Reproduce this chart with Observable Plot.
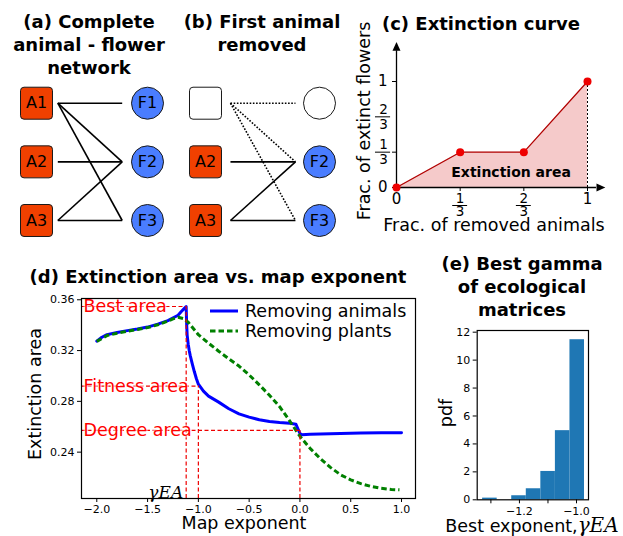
<!DOCTYPE html>
<html><head><meta charset="utf-8">
<script src="https://cdn.jsdelivr.net/npm/d3@7"></script>
<script src="https://cdn.jsdelivr.net/npm/@observablehq/plot@0.6"></script>
<style>
body{margin:0;background:#fff;font-family:"DejaVu Sans",sans-serif;}
#root{position:relative;width:623px;height:536px;overflow:hidden;background:#fff;}
.abs{position:absolute;}
.title{position:absolute;font-weight:bold;font-size:18px;line-height:23px;text-align:center;white-space:nowrap;transform:translateX(-50%);color:#000;}
.lab{position:absolute;font-size:17.5px;white-space:nowrap;line-height:1;transform:translate(-50%,-50%);color:#000;}
.rot{transform:translate(-50%,-50%) rotate(-90deg);}
.math{font-family:"DejaVu Serif",serif;font-style:italic;line-height:1;}
</style></head><body><div id="root"></div>
<script>
// ---------- data ----------
const animals = ["A1", "A2", "A3"];
const flowers = ["F1", "F2", "F3"];
const edges = [["A1","F1"],["A1","F2"],["A1","F3"],["A2","F2"],["A3","F2"],["A3","F3"]];
const removedAnimal = "A1";
const removedFlower = "F1";

const removedFrac = [0, 1/3, 2/3, 1];
const extinctFrac = [0, 1/3, 1/3, 1];
const fracTicks = [{v: 1/3, num: "1", den: "3"}, {v: 2/3, num: "2", den: "3"}];
const wholeTicks = [0, 1];

const animalExponent = [-2.0,-1.95,-1.9,-1.8,-1.7,-1.6,-1.5,-1.4,-1.3,-1.2,-1.17,-1.14,-1.12,-1.115,-1.11,-1.10,-1.09,-1.08,-1.06,-1.04,-1.02,-1.0,-0.95,-0.9,-0.8,-0.7,-0.6,-0.5,-0.4,-0.3,-0.2,-0.1,-0.04,0.0,0.02,0.1,0.2,0.4,0.6,0.8,1.0];
const areaAnimals = [0.3274,0.3305,0.3325,0.3343,0.3357,0.3370,0.3385,0.3408,0.3436,0.3478,0.3505,0.3530,0.3547,0.3400,0.3320,0.3250,0.3200,0.3160,0.3095,0.3035,0.2980,0.2935,0.2880,0.2841,0.2794,0.2742,0.2702,0.2676,0.2655,0.2642,0.2634,0.2628,0.2620,0.2547,0.2537,0.2540,0.2543,0.2547,0.2550,0.2552,0.2553];
const plantExponent = [-2.0,-1.9,-1.8,-1.7,-1.6,-1.5,-1.4,-1.3,-1.25,-1.2,-1.15,-1.1,-1.0,-0.9,-0.8,-0.7,-0.6,-0.5,-0.4,-0.3,-0.2,-0.1,0.0,0.1,0.2,0.3,0.4,0.5,0.6,0.7,0.8,0.9,0.98];
const areaPlants = [0.3272,0.3318,0.3337,0.3352,0.3366,0.3381,0.3403,0.3432,0.3450,0.3462,0.3452,0.3423,0.3325,0.3258,0.3195,0.3135,0.3078,0.3008,0.2930,0.2848,0.2758,0.2645,0.2525,0.2430,0.2350,0.2280,0.2222,0.2182,0.2152,0.2130,0.2115,0.2106,0.2103];
const refLabels = ["Best area", "Fitness area", "Degree area"];
const refExponent = [-1.12, -1.0, 0.0];
const refArea = [0.3547, 0.292, 0.2571];
const dTicksX = [-2.0,-1.5,-1.0,-0.5,0.0,0.5,1.0];
const dTicksY = [0.24,0.28,0.32,0.36];

const binEdges = [-1.329,-1.278,-1.227,-1.176,-1.125,-1.074,-1.023,-0.972];
const pdfValues = [0.12,0,0.29,0.79,2.03,4.95,11.46];
const eTicksX = [-1.3,-1.2,-1.1,-1.0];
const eTicksY = [0,2,4,6,8,10,12];

// ---------- helpers ----------
const root = document.getElementById("root");
const FONT = "DejaVu Sans";
function place(el, left, top, w, h) {
  const d = document.createElement("div");
  d.className = "abs";
  d.style.left = left + "px"; d.style.top = top + "px";
  d.style.width = w + "px"; d.style.height = h + "px";
  d.append(el); root.append(d);
}
function title(html, cx, top) {
  const d = document.createElement("div");
  d.className = "title"; d.innerHTML = html;
  d.style.left = cx + "px"; d.style.top = top + "px";
  root.append(d);
}
function label(html, cx, cy, rotated, size) {
  const d = document.createElement("div");
  d.className = "lab" + (rotated ? " rot" : ""); d.innerHTML = html;
  d.style.left = cx + "px"; d.style.top = cy + "px";
  if (size) d.style.fontSize = size + "px";
  root.append(d);
}
const roundSquare = {draw(ctx, size) {
  const h = Math.sqrt(size) / 2, c = 3.5;
  ctx.moveTo(-h + c, -h); ctx.lineTo(h - c, -h); ctx.arcTo(h, -h, h, -h + c, c);
  ctx.lineTo(h, h - c); ctx.arcTo(h, h, h - c, h, c);
  ctx.lineTo(-h + c, h); ctx.arcTo(-h, h, -h, h - c, c);
  ctx.lineTo(-h, -h + c); ctx.arcTo(-h, -h, -h + c, -h, c); ctx.closePath();
}};
const arrowUp = {draw(ctx, size) { const s = Math.sqrt(size);
  ctx.moveTo(0, -s); ctx.lineTo(s * 0.45, 0); ctx.lineTo(-s * 0.45, 0); ctx.closePath(); }};
const arrowRight = {draw(ctx, size) { const s = Math.sqrt(size);
  ctx.moveTo(s, 0); ctx.lineTo(0, s * 0.45); ctx.lineTo(0, -s * 0.45); ctx.closePath(); }};

// ---------- panels (a) and (b): networks ----------
function network(removed, linkStart, linkEnd, mLeft, mRight) {
  const rowOf = id => (animals.includes(id) ? animals.indexOf(id) : flowers.indexOf(id)) + 1;
  const aNodes = animals.map((id, i) => ({id, col: 0, row: i + 1, gone: removed && id === removedAnimal}));
  const fNodes = flowers.map((id, i) => ({id, col: 1, row: i + 1, gone: removed && id === removedFlower}));
  const links = edges.map(([a, f]) => ({x1: linkStart, x2: linkEnd, y1: rowOf(a), y2: rowOf(f), dotted: removed && a === removedAnimal}));
  return Plot.plot({
    width: 180, height: 170, marginLeft: mLeft, marginRight: mRight, marginTop: 32.7, marginBottom: 20,
    style: {fontFamily: FONT, fontSize: "16px", background: "none", overflow: "visible"},
    x: {domain: [0, 1], axis: null}, y: {domain: [1, 3], reverse: true, axis: null},
    marks: [
      Plot.link(links.filter(d => !d.dotted), {x1: "x1", y1: "y1", x2: "x2", y2: "y2", stroke: "black", strokeWidth: 1.6}),
      Plot.link(links.filter(d => d.dotted), {x1: "x1", y1: "y1", x2: "x2", y2: "y2", stroke: "black", strokeWidth: 1.6, strokeDasharray: "1.6,1.6", strokeLinecap: "butt"}),
      Plot.dot(aNodes.filter(d => !d.gone), {x: "col", y: "row", symbol: roundSquare, r: 18.05, fill: "#f04000", stroke: "#1a1a1a", strokeWidth: 1}),
      Plot.dot(aNodes.filter(d => d.gone), {x: "col", y: "row", symbol: roundSquare, r: 18.05, fill: "white", stroke: "#1a1a1a", strokeWidth: 1}),
      Plot.dot(fNodes.filter(d => !d.gone), {x: "col", y: "row", r: 16, fill: "#4a7dff", stroke: "#1a1a1a", strokeWidth: 1}),
      Plot.dot(fNodes.filter(d => d.gone), {x: "col", y: "row", r: 16, fill: "white", stroke: "#1a1a1a", strokeWidth: 1}),
      Plot.text(aNodes.filter(d => !d.gone), {x: "col", y: "row", text: "id", fill: "black"}),
      Plot.text(fNodes.filter(d => !d.gone), {x: "col", y: "row", text: "id", fill: "black"})
    ]
  });
}
place(network(false, 0.192, 0.772, 36, 33), 0, 70, 180, 170);
place(network(true, 0.219, 0.789, 35, 31), 170, 70, 180, 170);

// ---------- panel (c): extinction curve ----------
const curve = removedFrac.map((x, i) => ({x, y: extinctFrac[i]}));
const axisEnd = {x: 1.047, y: 1.29};
const panelC = Plot.plot({
  width: 303, height: 250, marginLeft: 76, marginRight: 36, marginTop: 81, marginBottom: 63,
  style: {fontFamily: FONT, fontSize: "15px", background: "none", overflow: "visible"},
  x: {domain: [0, 1], ticks: removedFrac, tickFormat: d => wholeTicks.includes(d) ? String(d) : "", tickSize: 4, tickPadding: 2, label: null},
  y: {domain: [0, 1], ticks: extinctFrac.filter((d, i, a) => a.indexOf(d) === i), tickFormat: d => wholeTicks.includes(d) ? String(d) : "", tickSize: 4, tickPadding: 5, label: null},
  marks: [
    Plot.areaY(curve, {x: "x", y: "y", fill: "#f5caca"}),
    Plot.ruleX([1], {y1: 0, y2: 1, stroke: "black", strokeWidth: 1, strokeDasharray: "2,2"}),
    Plot.line(curve, {x: "x", y: "y", stroke: "#b00000", strokeWidth: 1.2}),
    Plot.ruleY([0], {x1: 0, x2: axisEnd.x, stroke: "black", strokeWidth: 1.3}),
    Plot.ruleX([0], {y1: 0, y2: axisEnd.y, stroke: "black", strokeWidth: 1.3}),
    Plot.dot([axisEnd], {x: "x", y: () => 0, symbol: arrowRight, r: 5, fill: "black"}),
    Plot.dot([axisEnd], {x: () => 0, y: "y", symbol: arrowUp, r: 5, fill: "black"}),
    Plot.dot(curve, {x: "x", y: "y", r: 4, fill: "#ee0000"}),
    Plot.text(["Extinction area"], {x: () => 0.6, y: () => 0.145, fontWeight: "bold", fontSize: 14, fill: "black"}),
    // fraction tick labels on x
    Plot.text(fracTicks, {x: "v", y: () => 0, text: "num", dy: 11, fontSize: 13.5}),
    Plot.ruleY(fracTicks, {y: () => 0, x1: d => d.v - 0.039, x2: d => d.v + 0.039, dy: 18, stroke: "black", strokeWidth: 1}),
    Plot.text(fracTicks, {x: "v", y: () => 0, text: "den", dy: 24, fontSize: 13.5}),
    // fraction tick labels on y
    Plot.text(fracTicks, {x: () => 0, y: "v", text: "num", dx: -13, dy: -7, fontSize: 13.5}),
    Plot.ruleY(fracTicks, {y: "v", x1: () => -0.11, x2: () => -0.031, stroke: "black", strokeWidth: 1}),
    Plot.text(fracTicks, {x: () => 0, y: "v", text: "den", dx: -13, dy: 8, fontSize: 13.5})
  ]
});
place(panelC, 320, 0, 303, 250);

// ---------- panel (d): extinction area vs map exponent ----------
const animalCurve = animalExponent.map((x, i) => ({x, y: areaAnimals[i]}));
const plantCurve = plantExponent.map((x, i) => ({x, y: areaPlants[i]}));
const refs = refLabels.map((label, i) => ({label, x: refExponent[i], y: refArea[i]}));
const dX = [-2.1506, 1.1378], dY = [0.2035, 0.361];
const panelD = Plot.plot({
  width: 430, height: 248, marginLeft: 81, marginRight: 15, marginTop: 10, marginBottom: 38,
  style: {fontFamily: FONT, fontSize: "11px", background: "none", overflow: "visible"},
  x: {domain: dX, ticks: dTicksX, tickFormat: d3.format(".1f"), tickSize: 4, tickPadding: 3, label: null},
  y: {domain: dY, ticks: dTicksY, tickFormat: d3.format(".2f"), tickSize: 4, tickPadding: 3, label: null},
  marks: [
    Plot.line(animalCurve, {x: "x", y: "y", stroke: "#0000ff", strokeWidth: 3}),
    Plot.line(plantCurve, {x: "x", y: "y", stroke: "#008000", strokeWidth: 3, strokeDasharray: "5.5,3", strokeLinecap: "butt"}),
    Plot.ruleY(refs, {y: "y", x1: () => dX[0], x2: "x", stroke: "#ee0000", strokeWidth: 1.2, strokeDasharray: "4,2.5"}),
    Plot.ruleX(refs, {x: "x", y1: () => dY[0], y2: "y", stroke: "#ee0000", strokeWidth: 1.2, strokeDasharray: "4,2.5"}),
    Plot.text(refs, {x: () => dX[0], y: "y", text: "label", textAnchor: "start", dx: 2, fill: "#ff0000", fontSize: 17.5, stroke: "white", strokeOpacity: 0.55, strokeWidth: 3}),
    Plot.text([refs[0]], {x: "x", y: () => dY[0], text: () => "γEA", textAnchor: "end", lineAnchor: "bottom", dx: -3, dy: -1, fontFamily: "DejaVu Serif", fontStyle: "italic", fontSize: 17, fill: "black"}),
    Plot.frame({stroke: "black", strokeWidth: 1.2})
  ]
});
place(panelD, 0, 288, 430, 248);

// legend for (d)
const leg = d3.create("svg").attr("width", 215).attr("height", 45).style("overflow", "visible")
  .style("font-family", FONT).style("font-size", "17.5px");
leg.append("line").attr("x1", 5).attr("x2", 33).attr("y1", 11).attr("y2", 11).attr("stroke", "#0000ff").attr("stroke-width", 3);
leg.append("text").attr("x", 40).attr("y", 17).text("Removing animals");
leg.append("line").attr("x1", 5).attr("x2", 33).attr("y1", 31).attr("y2", 31).attr("stroke", "#008000").attr("stroke-width", 3).attr("stroke-dasharray", "5.5,3");
leg.append("text").attr("x", 40).attr("y", 37).text("Removing plants");
place(leg.node(), 205, 300, 215, 45);

// ---------- panel (e): histogram ----------
const bins = pdfValues.map((y, i) => ({x1: binEdges[i], x2: binEdges[i + 1], y}));
const panelE = Plot.plot({
  width: 203, height: 216, marginLeft: 56.7, marginRight: 35, marginTop: 10, marginBottom: 36.7,
  style: {fontFamily: FONT, fontSize: "11px", background: "none", overflow: "visible"},
  x: {domain: [-1.348, -0.958], ticks: eTicksX, tickFormat: d => Math.abs(Math.round(d * 10)) % 2 === 0 ? d3.format(".1f")(d) : "", tickSize: 4, tickPadding: 3, label: null},
  y: {domain: [0, 12.12], ticks: eTicksY, tickSize: 4, tickPadding: 3, label: null},
  marks: [
    Plot.rectY(bins, {x1: "x1", x2: "x2", y: "y", fill: "#1f77b4", inset: 0}),
    Plot.frame({stroke: "black", strokeWidth: 1.2})
  ]
});
place(panelE, 420, 320, 203, 216);

// ---------- titles & axis labels ----------
title("(a) Complete<br>animal - flower<br>network", 89, 9.6);
title("(b) First animal<br>removed", 262, 9.6);
title("(c) Extinction curve", 481, 11.6);
title("(d) Extinction area vs. map exponent", 218, 265);
title("(e) Best gamma<br>of ecological<br>matrices", 522, 251.6);

label("Frac. of extinct flowers", 365, 121, true);
label("Frac. of removed animals", 494, 225.5, false);
label("Extinction area", 35.8, 393.5, true);
label("Map exponent", 244, 524.3, false);
label("pdf", 446.5, 412.5, true);
label('Best exponent,<span class="math" style="font-size:20px">γEA</span>', 532, 524.5, false);
</script></body></html>
